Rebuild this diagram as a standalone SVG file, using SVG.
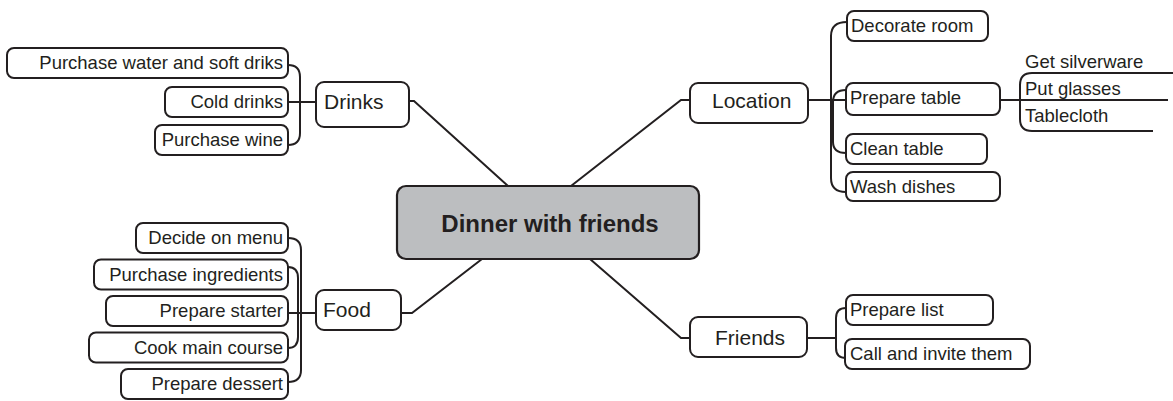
<svg xmlns="http://www.w3.org/2000/svg" width="1173" height="401" viewBox="0 0 1173 401">
<style>
.box{fill:#ffffff;stroke:#231f20;stroke-width:2}
.center{fill:#bcbec0;stroke:#231f20;stroke-width:2.2}
.ln{fill:none;stroke:#231f20;stroke-width:2}
.t{font-family:"Liberation Sans",Arial,sans-serif;fill:#231f20}
.main{font-size:21px}
.sub{font-size:18.5px}
.r{text-anchor:end}
.title{font-size:24px;font-weight:bold;text-anchor:middle}
</style>
<rect width="1173" height="401" fill="#ffffff"/>
<g id="connectors">
<path class="ln" d="M409 101 L414 101 L508 186"/>
<path class="ln" d="M571 186 L681 100 L690 100"/>
<path class="ln" d="M590 259 L681 338 L690 338"/>
<path class="ln" d="M482 259 L412 313 L401 313"/>
<path class="ln" d="M288 102 L316 102"/>
<path class="ln" d="M288 65 Q300 65 300 77 L300 133 Q300 145 288 145"/>
<path class="ln" d="M288 313 L316 313"/>
<path class="ln" d="M288 238 Q301 238 301 250 L301 370 Q301 382 288 382"/>
<path class="ln" d="M288 267 Q298 267 298 278 L298 337 Q298 348 288 348"/>
<path class="ln" d="M808 100 L846 100"/>
<path class="ln" d="M847 22 Q831 22 831 36 L831 178 Q831 192 846 192"/>
<path class="ln" d="M846 90 Q833 90 833 102 L833 142 Q833 153 846 153"/>
<path class="ln" d="M807 338 L836 338"/>
<path class="ln" d="M846 308 Q836 308 836 318 L836 348 Q836 358 846 358"/>
<path class="ln" d="M1000 100 L1168 100"/>
<path class="ln" d="M1173 73 L1032 73 Q1020 73 1020 85 L1020 119 Q1020 131 1032 131 L1153 131"/>
</g>
<g id="central">
<rect class="center" x="397" y="186" width="302" height="73" rx="9"/>
<text class="t title" x="550" y="232">Dinner with friends</text>
</g>
<g id="drinks">
<rect class="box" x="316" y="82" width="93" height="45" rx="8"/>
<text class="t main" x="324" y="109">Drinks</text>
</g>
<g id="drinks-water">
<rect class="box" x="7" y="48" width="281" height="30" rx="7"/>
<text class="t sub r" x="283" y="69">Purchase water and soft driks</text>
</g>
<g id="drinks-cold">
<rect class="box" x="165" y="87" width="123" height="30" rx="7"/>
<text class="t sub r" x="283" y="108">Cold drinks</text>
</g>
<g id="drinks-wine">
<rect class="box" x="155" y="125" width="133" height="30" rx="7"/>
<text class="t sub r" x="283" y="146">Purchase wine</text>
</g>
<g id="food">
<rect class="box" x="316" y="290" width="85" height="40" rx="8"/>
<text class="t main" x="323" y="317">Food</text>
</g>
<g id="food-menu">
<rect class="box" x="136" y="223" width="152" height="30" rx="7"/>
<text class="t sub r" x="283" y="244">Decide on menu</text>
</g>
<g id="food-ingredients">
<rect class="box" x="94" y="259.5" width="194" height="30" rx="7"/>
<text class="t sub r" x="283" y="280.5">Purchase ingredients</text>
</g>
<g id="food-starter">
<rect class="box" x="106" y="296" width="182" height="30" rx="7"/>
<text class="t sub r" x="283" y="317">Prepare starter</text>
</g>
<g id="food-main">
<rect class="box" x="89" y="332.5" width="199" height="30" rx="7"/>
<text class="t sub r" x="283" y="353.5">Cook main course</text>
</g>
<g id="food-dessert">
<rect class="box" x="121" y="369" width="167" height="30" rx="7"/>
<text class="t sub r" x="283" y="390">Prepare dessert</text>
</g>
<g id="location">
<rect class="box" x="690" y="83" width="118" height="40" rx="8"/>
<text class="t main" x="712" y="108">Location</text>
</g>
<g id="loc-decorate">
<rect class="box" x="847" y="11" width="141" height="30" rx="7"/>
<text class="t sub" x="851" y="32">Decorate room</text>
</g>
<g id="loc-prepare">
<rect class="box" x="846" y="83" width="154" height="32" rx="7"/>
<text class="t sub" x="850" y="104">Prepare table</text>
</g>
<g id="loc-clean">
<rect class="box" x="846" y="134" width="141" height="30" rx="7"/>
<text class="t sub" x="850" y="155">Clean table</text>
</g>
<g id="loc-wash">
<rect class="box" x="846" y="172" width="154" height="29" rx="7"/>
<text class="t sub" x="850" y="193">Wash dishes</text>
</g>
<g id="table-items">
<text class="t sub" x="1025" y="68">Get silverware</text>
<text class="t sub" x="1025" y="95">Put glasses</text>
<text class="t sub" x="1025" y="122">Tablecloth</text>
</g>
<g id="friends">
<rect class="box" x="690" y="317" width="117" height="40" rx="8"/>
<text class="t main" x="715" y="345">Friends</text>
</g>
<g id="friends-list">
<rect class="box" x="846" y="295" width="147" height="30" rx="7"/>
<text class="t sub" x="850" y="316">Prepare list</text>
</g>
<g id="friends-call">
<rect class="box" x="845" y="339" width="185" height="30" rx="7"/>
<text class="t sub" x="850" y="360">Call and invite them</text>
</g>
</svg>
